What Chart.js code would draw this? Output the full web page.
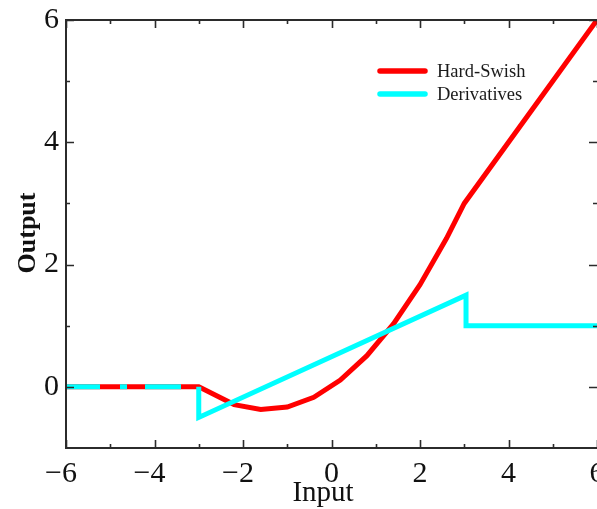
<!DOCTYPE html>
<html>
<head>
<meta charset="utf-8">
<script src="https://cdn.jsdelivr.net/npm/chart.js@4.4.1/dist/chart.umd.min.js"></script>
<style>
  html, body { margin: 0; padding: 0; background: #fff; overflow: hidden; }
  #wrap { width: 597px; height: 509px; }
  canvas { display: block; }
</style>
</head>
<body>
<div id="wrap"><canvas id="c" width="597" height="509"></canvas></div>
<script>
var hardSwishX = [-6, -3, -2.2, -1.6, -1.0, -0.4, 0.2, 0.8, 1.4, 2.0, 2.6, 3.0, 6];
var hardSwishY = [0, 0, -0.29, -0.37, -0.33, -0.17, 0.11, 0.51, 1.03, 1.67, 2.43, 3.0, 6];
var derivX = [-6, -3, -3, 3.04, 3.04, 6];
var derivY = [0, 0, -0.5, 1.5, 1.0, 1.0];
var seriesNames = ['Hard-Swish', 'Derivatives'];
var xMajor = [-6, -4, -2, 0, 2, 4, 6];
var xMinor = [-5, -3, -1, 1, 3, 5];
var yMajor = [0, 2, 4, 6];
var yMinor = [1, 3, 5];

var SERIF = "'Liberation Serif', 'Times New Roman', serif";
var RED = '#ff0000';
var CYAN = '#00ffff';
var AXIS = '#2b2b2b';

function pts(xs, ys) {
  return xs.map(function (x, i) { return { x: x, y: ys[i] }; });
}

function fmt(v) {
  return v < 0 ? '\u2212' + Math.abs(v) : String(v);
}

var framePlugin = {
  id: 'frame',
  afterDatasetsDraw: function (chart) {
    var ctx = chart.ctx;
    var a = chart.chartArea;
    var xs = chart.scales.x;
    var ys = chart.scales.y;
    ctx.save();
    ctx.strokeStyle = AXIS;
    ctx.lineWidth = 2;
    // left, top and bottom edges; the right edge falls just past the canvas
    ctx.beginPath();
    ctx.moveTo(a.right + 2, a.top);
    ctx.lineTo(a.left, a.top);
    ctx.lineTo(a.left, a.bottom);
    ctx.lineTo(a.right + 2, a.bottom);
    ctx.stroke();

    function tickX(v, len) {
      var px = Math.round(xs.getPixelForValue(v)) + 0.5;
      ctx.beginPath();
      ctx.moveTo(px, a.bottom); ctx.lineTo(px, a.bottom - len);
      ctx.moveTo(px, a.top); ctx.lineTo(px, a.top + len);
      ctx.stroke();
    }
    function tickY(v, len) {
      var py = Math.round(ys.getPixelForValue(v)) + 0.5;
      ctx.beginPath();
      ctx.moveTo(a.left, py); ctx.lineTo(a.left + len, py);
      ctx.moveTo(a.right, py); ctx.lineTo(a.right - len, py);
      ctx.stroke();
    }
    ctx.lineWidth = 1.6;
    xMajor.forEach(function (v) { tickX(v, 8); });
    xMinor.forEach(function (v) { tickX(v, 4); });
    yMajor.forEach(function (v) { tickY(v, 8); });
    yMinor.forEach(function (v) { tickY(v, 4); });

    // axis titles
    ctx.fillStyle = '#111';
    ctx.textAlign = 'center';
    ctx.textBaseline = 'alphabetic';
    ctx.font = '29px ' + SERIF;
    ctx.fillText('Input', 323, 501);
    ctx.save();
    ctx.translate(35, 233);
    ctx.rotate(-Math.PI / 2);
    ctx.font = 'bold 26px ' + SERIF;
    ctx.fillText('Output', 0, 0);
    ctx.restore();

    // legend
    var colors = [RED, CYAN];
    var rows = [71, 94];
    ctx.font = '18.5px ' + SERIF;
    ctx.textAlign = 'left';
    ctx.textBaseline = 'middle';
    seriesNames.forEach(function (name, i) {
      ctx.strokeStyle = colors[i];
      ctx.lineWidth = 5.5;
      ctx.lineCap = 'round';
      ctx.beginPath();
      ctx.moveTo(380, rows[i]); ctx.lineTo(425, rows[i]);
      ctx.stroke();
      ctx.fillStyle = '#1a1a1a';
      ctx.fillText(name, 437, rows[i] + 1);
    });
    ctx.restore();
  }
};

new Chart(document.getElementById('c'), {
  type: 'line',
  data: {
    datasets: [
      {
        label: seriesNames[0],
        data: pts(hardSwishX, hardSwishY),
        borderColor: RED,
        borderWidth: 5,
        pointRadius: 0,
        tension: 0,
        order: 1
      },
      {
        label: seriesNames[1],
        data: pts(derivX, derivY),
        borderColor: CYAN,
        borderWidth: 5,
        pointRadius: 0,
        tension: 0,
        order: 0,
        segment: {
          borderDash: function (c) {
            return c.p0DataIndex === 0 ? [34, 20, 7, 18, 36, 300] : undefined;
          }
        }
      }
    ]
  },
  options: {
    responsive: false,
    animation: false,
    devicePixelRatio: 1,
    layout: { padding: { top: 20, right: 0, left: 0, bottom: 0 } },
    plugins: { legend: { display: false }, tooltip: { enabled: false } },
    scales: {
      x: {
        type: 'linear',
        min: -6,
        max: 6,
        afterBuildTicks: function (s) {
          s.ticks = xMajor.map(function (v) { return { value: v }; });
        },
        afterFit: function (s) {
          s.height = 61;
          s.paddingLeft = 0;
          s.paddingRight = 0;
        },
        grid: { display: false, drawTicks: false },
        border: { display: false },
        ticks: {
          padding: 8,
          color: '#111',
          font: { family: SERIF, size: 30 },
          maxRotation: 0,
          autoSkip: false,
          // negative labels hang left of their tick, as in the original
          callback: function (v) { return v < 0 ? fmt(v) + '\u2004' : fmt(v); }
        }
      },
      y: {
        type: 'linear',
        min: -1,
        max: 6,
        afterBuildTicks: function (s) {
          s.ticks = yMajor.map(function (v) { return { value: v }; });
        },
        afterFit: function (s) {
          s.width = 66;
          s.paddingTop = 0;
          s.paddingBottom = 0;
        },
        grid: { display: false, drawTicks: false },
        border: { display: false },
        ticks: {
          padding: 7,
          color: '#111',
          font: { family: SERIF, size: 30 },
          autoSkip: false,
          callback: function (v) { return fmt(v); }
        }
      }
    }
  },
  plugins: [framePlugin]
});
</script>
</body>
</html>
